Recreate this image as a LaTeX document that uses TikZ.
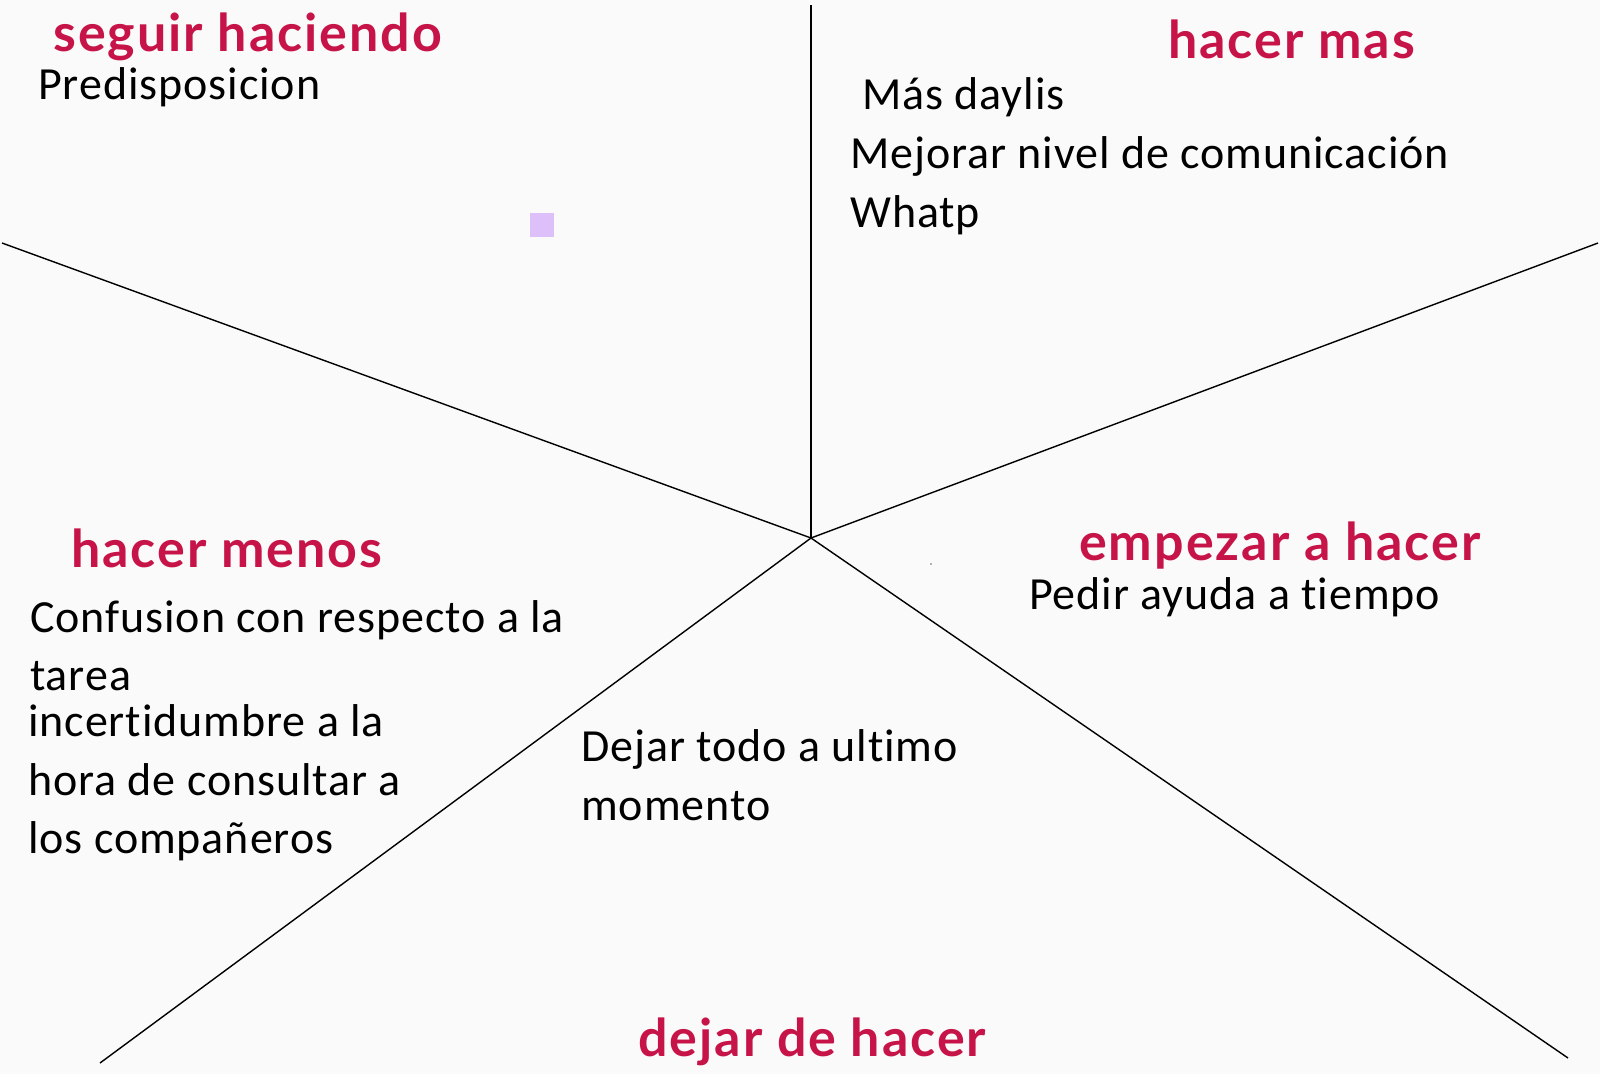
\documentclass[tikz,border=0pt]{standalone}
\usepackage{fontspec}
\setmainfont{Carlito}[Ligatures=NoCommon,LetterSpace=2]
\newfontfamily\headfont{Lato}[Ligatures=NoCommon,LetterSpace=3.8]
\definecolor{crimson}{RGB}{198,20,72}
\definecolor{bgc}{RGB}{250,250,250}
\definecolor{lilac}{RGB}{221,192,250}
\tikzset{
  head/.style={anchor=base west,inner sep=0,text=crimson,font=\headfont\bfseries\fontsize{52}{60}\selectfont},
  body/.style={anchor=base west,inner sep=0,text=black,font=\fontsize{46}{52}\selectfont},
  divider/.style={draw=black,line width=1.4pt}
}
\begin{document}
\begin{tikzpicture}[x=1pt,y=-1pt]
\fill[bgc] (0,0) rectangle (1600,1074);
\useasboundingbox (0,0) rectangle (1600,1074);
\coordinate (c) at (811,538);
\coordinate (t) at (811,5);
\coordinate (l) at (2,243);
\coordinate (r) at (1598,243);
\coordinate (bl) at (100,1063);
\coordinate (br) at (1568,1058);
\draw[divider] (t) -- (c);
\draw[divider] (l) -- (c);
\draw[divider] (r) -- (c);
\draw[divider] (bl) -- (c);
\draw[divider] (br) -- (c);
\fill[lilac] (530,213) rectangle (554,237);
\fill[gray!60] (930,563) rectangle (932,565);
% seguir haciendo
\node[head] (h1) at (53,51) {seguir haciendo};
\node[body] (p1) at (38,99) {Predisposicion};
% hacer mas
\node[head] (h2) at (1168,58) {hacer mas};
\node[body] (m1) at (862,109) {Más daylis};
\node[body] (m2) at (850,168) {Mejorar nivel de comunicación};
\node[body] (m3) at (850,227) {Whatp};
% hacer menos
\node[head] (h3) at (71,567) {hacer menos};
\node[body] (n1) at (30,632) {Confusion con respecto a la};
\node[body] (n2) at (30,690) {tarea};
\node[body] (n3) at (28,736) {incertidumbre a la};
\node[body] (n4) at (28,795) {hora de consultar a};
\node[body] (n5) at (28,853) {los compañeros};
% dejar de hacer
\node[body] (d1) at (581,761) {Dejar todo a ultimo};
\node[body] (d2) at (581,820) {momento};
\node[head] (h4) at (638,1056) {dejar de hacer};
% empezar a hacer
\node[head] (h5) at (1079,560) {empezar a hacer};
\node[body] (e1) at (1029,609) {Pedir ayuda a tiempo};
\end{tikzpicture}
\end{document}
